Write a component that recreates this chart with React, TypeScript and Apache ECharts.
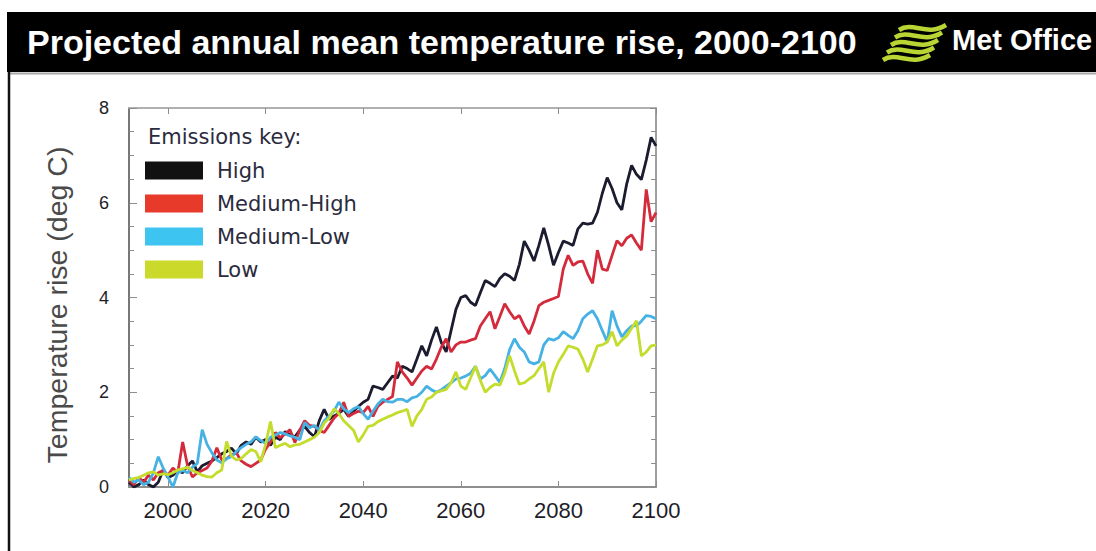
import React, { useEffect, useRef } from "react";
import * as echarts from "echarts";

// Years 1992..2100 (one value per year)
const START_YEAR = 1992;
const X_TICKS = [2000, 2020, 2040, 2060, 2080, 2100];
const SERIES_NAMES = ["High", "Medium-High", "Medium-Low", "Low"];

const HIGH = [
  0.10, 0.00, 0.05, 0.15, 0.05, 0.00, 0.10, 0.36, 0.20, 0.25,
  0.35, 0.30, 0.45, 0.55, 0.32, 0.45, 0.50, 0.55, 0.62, 0.70,
  0.75, 0.82, 0.70, 0.88, 0.95, 0.90, 1.05, 0.95, 1.00, 0.88,
  1.05, 1.00, 1.17, 1.10, 1.06, 1.20, 1.28, 1.15, 1.06, 1.40,
  1.64, 1.43, 1.50, 1.55, 1.64, 1.49, 1.60, 1.70, 1.79, 1.85,
  2.13, 2.10, 2.06, 2.20, 2.34, 2.30, 2.55, 2.50, 2.43, 2.70,
  2.98, 2.77, 3.10, 3.38, 3.05, 2.85, 3.30, 3.75, 4.00, 4.04,
  3.90, 3.83, 4.10, 4.36, 4.30, 4.23, 4.40, 4.50, 4.45, 4.36,
  4.70, 5.19, 5.00, 4.77, 5.10, 5.47, 5.10, 4.68, 4.95, 5.19,
  5.15, 5.10, 5.45, 5.57, 5.55, 5.57, 5.80, 6.20, 6.53, 6.30,
  6.00, 5.85, 6.40, 6.79, 6.60, 6.49, 6.90, 7.38, 7.20,
];

const MEDIUM_HIGH = [
  0.15, 0.05, 0.20, 0.10, 0.25, 0.15, 0.30, 0.35, 0.25, 0.40,
  0.30, 0.95, 0.45, 0.21, 0.30, 0.35, 0.40, 0.55, 0.83, 0.57,
  0.60, 0.68, 0.72, 0.55, 0.48, 0.43, 0.50, 0.57, 0.80, 0.95,
  1.15, 1.04, 1.12, 1.21, 0.94, 1.20, 1.40, 1.30, 1.28, 1.20,
  1.15, 1.30, 1.45, 1.55, 1.79, 1.49, 1.55, 1.60, 1.57, 1.70,
  1.49, 1.70, 1.79, 1.85, 1.91, 2.64, 2.43, 2.30, 2.15, 2.30,
  2.45, 2.55, 2.49, 2.70, 2.95, 3.13, 2.85, 3.00, 3.06, 3.06,
  3.10, 3.13, 3.40, 3.55, 3.70, 3.34, 3.60, 3.87, 3.70, 3.55,
  3.62, 3.40, 3.23, 3.50, 3.83, 3.90, 3.94, 3.98, 4.02, 4.60,
  4.89, 4.68, 4.75, 4.77, 4.50, 4.30, 5.00, 4.60, 4.57, 4.89,
  5.20, 5.09, 5.25, 5.32, 5.15, 5.00, 6.28, 5.60, 5.79,
];

const MEDIUM_LOW = [
  0.20, 0.10, 0.15, 0.05, 0.10, 0.30, 0.64, 0.40, 0.21, 0.00,
  0.30, 0.35, 0.30, 0.42, 0.50, 1.21, 0.90, 0.72, 0.57, 0.51,
  0.60, 0.64, 0.75, 0.83, 0.90, 0.95, 1.06, 0.98, 0.92, 1.05,
  1.10, 1.15, 1.12, 1.08, 1.05, 1.00, 1.36, 1.25, 1.30, 1.20,
  1.40, 1.50, 1.60, 1.79, 1.65, 1.57, 1.65, 1.70, 1.55, 1.43,
  1.60, 1.75, 1.85, 1.80, 1.79, 1.85, 1.85, 1.80, 1.88, 1.91,
  2.00, 2.13, 2.05, 2.00, 2.05, 2.13, 2.20, 2.28, 2.30, 2.34,
  2.40, 2.55, 2.28, 2.35, 2.49, 2.35, 2.21, 2.50, 2.90, 3.13,
  2.95, 2.85, 2.64, 2.60, 2.64, 3.00, 3.13, 3.10, 3.15, 3.28,
  3.20, 3.13, 3.30, 3.55, 3.65, 3.72, 3.55, 3.30, 3.06, 3.72,
  3.40, 3.17, 3.30, 3.40, 3.40, 3.50, 3.62, 3.60, 3.55,
];

const LOW = [
  0.15, 0.18, 0.20, 0.25, 0.30, 0.32, 0.25, 0.28, 0.26, 0.30,
  0.36, 0.38, 0.42, 0.35, 0.30, 0.25, 0.22, 0.21, 0.30, 0.36,
  0.96, 0.65, 0.57, 0.60, 0.70, 0.79, 0.75, 0.53, 0.90, 1.38,
  0.83, 0.88, 0.92, 0.85, 0.89, 0.90, 0.95, 1.00, 1.05, 1.15,
  1.35, 1.45, 1.65, 1.55, 1.40, 1.30, 1.20, 0.95, 1.10, 1.28,
  1.30, 1.38, 1.43, 1.48, 1.52, 1.57, 1.60, 1.64, 1.28, 1.50,
  1.64, 1.85, 1.90, 2.00, 2.03, 2.06, 2.20, 2.43, 2.13, 2.06,
  2.30, 2.55, 2.25, 2.00, 2.10, 2.17, 2.15, 2.40, 2.77, 2.45,
  2.17, 2.20, 2.28, 2.35, 2.50, 2.64, 2.00, 2.40, 2.64, 2.80,
  2.98, 2.95, 2.91, 2.70, 2.43, 2.70, 2.98, 3.00, 3.06, 3.28,
  2.98, 3.10, 3.19, 3.35, 3.51, 2.77, 2.85, 2.98, 3.00,
];

const LINE_COLORS = ["#1c1c30", "#d42b3c", "#46b2e4", "#c4dc2c"];
const LEGEND_COLORS = ["#111111", "#e83a2a", "#3ec4f0", "#cbd92a"];

const toPairs = (vals: number[]) => vals.map((v, i) => [START_YEAR + i, v]);

export default function App() {
  const ref = useRef<HTMLDivElement>(null);

  useEffect(() => {
    if (!ref.current) return;
    const chart = echarts.init(ref.current, null, { renderer: "svg" });
    const axisColor = "#8e8e8e";
    const font = "Liberation Sans, Arial, sans-serif";
    const allSeries = [HIGH, MEDIUM_HIGH, MEDIUM_LOW, LOW];

    const logoStripes = [0, 1, 2, 3, 4].map((i) => {
      const sx = 899 - i * 4;
      const sy = 30 + i * 7.5;
      return {
        type: "bezierCurve",
        shape: {
          x1: sx, y1: sy,
          cpx1: sx + 14, cpy1: sy - 9,
          cpx2: sx + 28, cpy2: sy + 7,
          x2: sx + 47, y2: sy - 5,
        },
        style: { stroke: "#b8d534", lineWidth: 4.5, fill: null },
      };
    });

    chart.setOption({
      animation: false,
      backgroundColor: "#ffffff",
      grid: { left: 129, right: 440, top: 108, bottom: 64, containLabel: false },
      xAxis: [
        {
          type: "value",
          min: 1992,
          max: 2100,
          position: "bottom",
          axisLine: { show: true, onZero: false, lineStyle: { color: axisColor, width: 2 } },
          axisTick: { show: true, inside: true, length: 6, customValues: X_TICKS, lineStyle: { color: axisColor } },
          axisLabel: {
            customValues: X_TICKS,
            fontSize: 22,
            color: "#1e1e28",
            margin: 12,
            fontFamily: font,
            formatter: (v: number) => String(v),
          },
          splitLine: { show: false },
        },
        {
          type: "value",
          min: 1992,
          max: 2100,
          position: "top",
          axisLine: { show: true, onZero: false, lineStyle: { color: "#b0b0b0", width: 2 } },
          axisTick: { show: true, inside: true, length: 6, customValues: X_TICKS, lineStyle: { color: axisColor } },
          axisLabel: { show: false },
          splitLine: { show: false },
        },
      ],
      yAxis: [
        {
          type: "value",
          min: 0,
          max: 8,
          interval: 2,
          position: "left",
          axisLine: { show: true, lineStyle: { color: "#777", width: 2 } },
          axisTick: { show: true, inside: true, length: 8, lineStyle: { color: axisColor } },
          minorTick: { show: true, splitNumber: 4, length: 5, lineStyle: { color: axisColor } },
          axisLabel: { fontSize: 18, color: "#1e1e28", margin: 20, fontFamily: font },
          splitLine: { show: false },
          minorSplitLine: { show: false },
        },
        {
          type: "value",
          min: 0,
          max: 8,
          interval: 2,
          position: "right",
          axisLine: { show: true, lineStyle: { color: "#a0a0a0", width: 2 } },
          axisTick: { show: true, inside: true, length: 6, lineStyle: { color: axisColor } },
          minorTick: { show: true, splitNumber: 4, length: 5, lineStyle: { color: axisColor } },
          axisLabel: { show: false },
          splitLine: { show: false },
        },
      ],
      legend: {
        orient: "vertical",
        left: 140,
        top: 155,
        itemWidth: 58,
        itemHeight: 18,
        itemGap: 12,
        icon: "rect",
        selectedMode: false,
        textStyle: {
          fontFamily: "DejaVu Sans, sans-serif",
          fontSize: 21,
          color: "#2b2b3d",
          lineHeight: 18,
          padding: [0, 0, 0, 9],
        },
        data: SERIES_NAMES.map((n, i) => ({ name: n, itemStyle: { color: LEGEND_COLORS[i] } })),
      },
      series: allSeries.map((vals, i) => ({
        name: SERIES_NAMES[i],
        type: "line",
        xAxisIndex: 0,
        yAxisIndex: 0,
        data: toPairs(vals),
        showSymbol: false,
        symbol: "none",
        color: LINE_COLORS[i],
        lineStyle: { color: LINE_COLORS[i], width: 2.8 },
        z: 2 + i,
      })),
      graphic: [
        { type: "rect", shape: { x: 7, y: 12, width: 1089, height: 60 }, style: { fill: "#000" }, z: 0 },
        { type: "line", shape: { x1: 9, y1: 73.5, x2: 1096, y2: 73.5 }, style: { stroke: "#a8a8a8", lineWidth: 2 } },
        { type: "line", shape: { x1: 9, y1: 72, x2: 9, y2: 551 }, style: { stroke: "#111", lineWidth: 2.5 } },
        {
          type: "text",
          x: 27,
          y: 42,
          style: {
            text: "Projected annual mean temperature rise, 2000-2100",
            fill: "#fff",
            font: "bold 34px Liberation Sans, Arial, sans-serif",
            verticalAlign: "middle",
          },
        },
        ...logoStripes,
        {
          type: "text",
          x: 952,
          y: 40,
          style: {
            text: "Met Office",
            fill: "#fff",
            font: "bold 29px Liberation Sans, Arial, sans-serif",
            verticalAlign: "middle",
          },
        },
        {
          type: "text",
          x: 148,
          y: 137,
          style: {
            text: "Emissions key:",
            fill: "#2b2b3d",
            font: "21px DejaVu Sans, sans-serif",
            verticalAlign: "middle",
          },
        },
        {
          type: "text",
          x: 57,
          y: 305,
          rotation: Math.PI / 2,
          style: {
            text: "Temperature rise (deg C)",
            fill: "#4a4a4a",
            font: "28.5px Liberation Sans, Arial, sans-serif",
            align: "center",
            verticalAlign: "middle",
          },
        },
      ],
    });
    return () => chart.dispose();
  }, []);

  return (
    <div
      ref={ref}
      style={{ position: "absolute", left: 0, top: 0, width: 1096, height: 551 }}
    />
  );
}
